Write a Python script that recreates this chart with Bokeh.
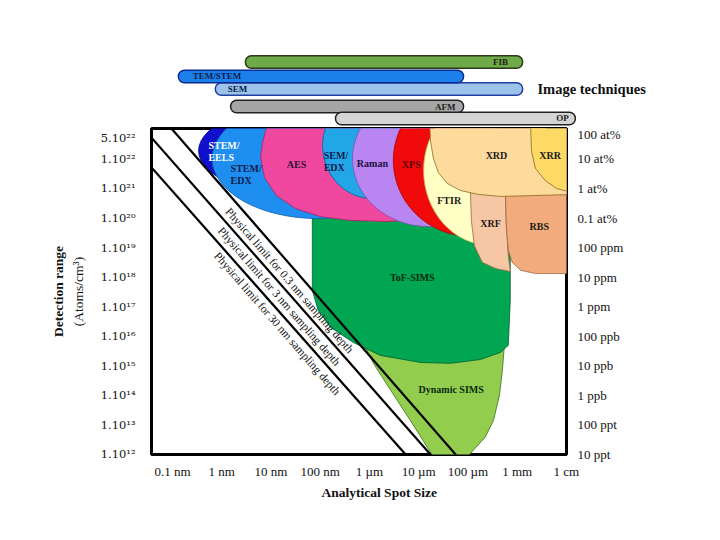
from bokeh.plotting import figure
from bokeh.layouts import column
from bokeh.models import FixedTicker, LinearAxis, Range1d, Title
from bokeh.core.properties import value
from bokeh.embed import file_html
from bokeh.resources import INLINE

SERIF = "Liberation Serif"
SERIF2 = "DejaVu Serif"

# ---------------- data ----------------
# x = log10(analytical spot size / m), y = log10(detection range / atoms cm^-3)
x_ticks = [-10, -9, -8, -7, -6, -5, -4, -3, -2]
x_tick_labels = ["0.1 nm", "1 nm", "10 nm", "100 nm", "1 µm", "10 µm", "100 µm", "1 mm", "1 cm"]

y_ticks = [12, 13, 14, 15, 16, 17, 18, 19, 20, 21, 22, 22.7]
y_tick_labels = ["1.10¹²", "1.10¹³", "1.10¹⁴", "1.10¹⁵", "1.10¹⁶", "1.10¹⁷", "1.10¹⁸",
                 "1.10¹⁹", "1.10²⁰", "1.10²¹", "1.10²²", "5.10²²"]

conc_ticks = [12, 13, 14, 15, 16, 17, 18, 19, 20, 21, 22, 22.85]
conc_labels = ["10 ppt", "100 ppt", "1 ppb", "10 ppb", "100 ppb", "1 ppm", "10 ppm",
               "100 ppm", "0.1 at%", "1 at%", "10 at%", "100 at%"]

# image techniques (spot-size ranges, log10 m)
img_names = ["FIB", "SEM", "TEM/STEM", "AFM", "OP"]
img_left = [-8.52, -9.13, -9.88, -8.82, -6.69]
img_right = [-2.89, -2.89, -4.09, -4.09, -1.82]
img_row = [5.47, 3.18, 4.24, 1.69, 0.68]

# elliptical techniques: centre, full width (decades), full height (decades)
eels = dict(x=-6.89, y=22.28, w=5.16, h=3.38)
stem_edx = dict(x=-7.04, y=22.01, w=4.31, h=4.06)
sem_edx = dict(x=-5.94, y=22.45, w=2.03, h=3.59)
raman = dict(x=-4.80, y=22.01, w=3.09, h=4.60)
xps = dict(x=-3.95, y=21.95, w=3.13, h=5.14)
ftir = dict(x=-3.54, y=21.61, w=2.72, h=5.07)

# outlined techniques (boundary points)
aes_x = [-8.05, -8.17, -8.21, -8.13, -7.89, -7.50, -7.00, -6.39, -5.68, -5.17, -4.76, -4.56, -4.56]
aes_y = [23.30, 22.56, 22.05, 21.37, 20.76, 20.32, 20.05, 19.92, 19.88, 19.92, 20.09, 20.59, 23.30]

xrd_x = [-4.78, -4.76, -4.70, -4.60, -4.42, -4.15, -3.79, -3.34, -1.82, -1.82]
xrd_y = [23.30, 22.62, 22.01, 21.54, 21.17, 20.93, 20.80, 20.73, 20.80, 23.30]

xrr_x = [-2.73, -2.71, -2.63, -2.43, -2.20, -1.82, -1.82]
xrr_y = [23.30, 22.28, 21.68, 21.27, 21.00, 20.83, 23.30]

xrf_x = [-3.95, -3.93, -3.87, -3.71, -3.44, -3.14, -3.18, -3.22, -3.24]
xrf_y = [20.93, 19.92, 19.07, 18.50, 18.29, 18.19, 18.73, 19.75, 20.93]

rbs_x = [-3.24, -3.22, -3.18, -3.10, -2.93, -2.63, -1.82, -1.82]
rbs_y = [20.93, 19.75, 18.90, 18.50, 18.23, 18.12, 18.12, 20.93]

tof_x = [-7.16, -7.16, -7.04, -6.79, -6.33, -5.78, -4.96, -4.36, -3.75, -3.34, -3.18, -3.14, -3.14, -3.18]
tof_y = [20.42, 17.55, 16.87, 16.30, 15.79, 15.35, 15.11, 15.08, 15.21, 15.45, 15.69, 17.21, 18.73, 20.42]

dyn_x = [-6.22, -6.12, -5.92, -5.57, -5.17, -4.76, -4.72, -3.99, -3.95, -3.65, -3.48, -3.36, -3.30, -3.26, -3.24]
dyn_y = [16.20, 15.76, 15.08, 14.17, 13.15, 12.07, 11.93, 11.93, 12.03, 12.58, 13.15, 14.00, 14.84, 15.69, 16.20]

# physical limits (lines) for sampling depths
limit_names = ["0.3 nm", "3 nm", "30 nm"]
limit_x = [[-10.10, -4.20], [-10.50, -4.71], [-10.50, -5.22]]
limit_y = [[23.18, 11.90], [22.86, 11.90], [21.85, 11.91]]
limit_label_x = [-7.62, -7.83, -7.87]
limit_label_y = [17.89, 17.35, 16.43]

# technique labels
lab_text = ["AES", "Raman", "XPS", "XRD", "XRR", "FTIR", "XRF", "RBS", "ToF-SIMS", "Dynamic SIMS"]
lab_x = [-7.48, -5.94, -5.15, -3.42, -2.33, -4.38, -3.54, -2.55, -5.13, -4.34]
lab_y = [21.81, 21.84, 21.81, 22.12, 22.12, 20.59, 19.82, 19.71, 17.99, 14.20]
lab_color = ["#2a1030", "#1a1040", "#5a0000", "#1a1a1a", "#1a1a1a", "#1a1a1a",
             "#1a1a1a", "#1a1a1a", "#0a2a10", "#0a2a10"]
lab2_text = ["STEM/\nEELS", "STEM/\nEDX", "SEM/\nEDX"]
lab2_x = [-9.27, -8.82, -6.93]
lab2_y = [22.25, 21.47, 21.91]
lab2_color = ["white", "#0d1b4a", "#0d1b4a"]

# ---------------- top figure: image techniques ----------------
top = figure(width=712, height=126, x_range=Range1d(-10.426, -0.091), y_range=Range1d(0, 10),
             x_axis_type=None, y_axis_type=None, toolbar_location=None, output_backend="svg",
             min_border_left=151, min_border_right=52, min_border_top=8, min_border_bottom=0)
top.outline_line_color = None
top.grid.visible = False

img_fill = {"FIB": "#6FAA48", "SEM": "#9DC3EA", "TEM/STEM": "#1C80EA", "AFM": "#A6A6A6", "OP": "#D4D4D4"}
img_line = {"FIB": "#2a3a1a", "SEM": "#2040A0", "TEM/STEM": "#0A2A90", "AFM": "#222222", "OP": "#222222"}
for n, l, r, yy in zip(img_names, img_left, img_right, img_row):
    top.hbar(y=[yy], left=[l], right=[r], height=1.06, fill_color=img_fill[n],
             line_color=img_line[n], line_width=1.5, border_radius=6)

bar_font = dict(text_font=value(SERIF), text_font_style="bold", text_font_size="9px",
                text_baseline="middle")
top.text(x=[-9.59, -8.88], y=[img_row[2], img_row[1]], text=["TEM/STEM", "SEM"],
         text_align="left", text_color="#0a1a4a", **bar_font)
top.text(x=[-3.34, -4.46, -2.08], y=[img_row[0], img_row[3], img_row[4]], text=["FIB", "AFM", "OP"],
         text_align="center", text_color="#202020", **bar_font)
top.text(x=[-1.49], y=[3.22], text=["Image techniques"], text_align="center", text_baseline="middle",
         text_font=value(SERIF), text_font_style="bold", text_font_size="14.5px", text_color="#111111")

# ---------------- main figure ----------------
p = figure(width=712, height=384, x_range=Range1d(-10.426, -1.998), y_range=Range1d(11.995, 23.03),
           toolbar_location=None, output_backend="svg",
           min_border_left=151, min_border_right=146, min_border_top=2, min_border_bottom=56)
p.grid.visible = False
p.outline_line_color = "black"
p.outline_line_width = 3

for fig in (top, p):
    if hasattr(fig, "frame_align"):
        fig.frame_align = False

def ell(d, fill, line):
    p.ellipse(x=[d["x"]], y=[d["y"]], width=[d["w"]], height=[d["h"]],
              fill_color=fill, line_color=line, line_width=0.8)

def poly(xs, ys, fill, line):
    p.patch(xs, ys, fill_color=fill, line_color=line, line_width=0.8)

poly(dyn_x, dyn_y, "#92CD4E", "#3E6E1A")
poly(tof_x, tof_y, "#00A651", "#00602A")
ell(eels, "#1010CC", "#000090")
ell(stem_edx, "#1E8EF0", "#1060B0")
poly(aes_x, aes_y, "#F0489E", "#B02060")
ell(sem_edx, "#22A6E8", "#1A5A90")
ell(raman, "#B985F0", "#8050B0")
ell(xps, "#F00A0A", "#B00000")
ell(ftir, "#FFFFC6", "#C8B860")
poly(xrf_x, xrf_y, "#F7C6A4", "#9A6A40")
poly(rbs_x, rbs_y, "#F1AB7C", "#9A6A40")
poly(xrd_x, xrd_y, "#FCDB9C", "#8A6A20")
poly(xrr_x, xrr_y, "#FFD966", "#8A6A20")

p.multi_line(xs=limit_x, ys=limit_y, line_color="black", line_width=2.2)
p.text(x=limit_label_x, y=limit_label_y,
       text=["Physical limit for %s sampling depth" % n for n in limit_names],
       angle=-0.854, text_align="center", text_baseline="middle",
       text_font=value(SERIF), text_font_size="11.5px", text_color="#111111")

p.text(x=lab_x, y=lab_y, text=lab_text, text_color=lab_color, text_align="center",
       text_baseline="middle", text_font=value(SERIF), text_font_style="bold", text_font_size="10px")
p.text(x=lab2_x, y=lab2_y, text=lab2_text, text_color=lab2_color, text_align="left",
       text_baseline="middle", text_font=value(SERIF), text_font_style="bold", text_font_size="10px",
       text_line_height=1.05)

def style_axis(ax):
    ax.axis_line_color = None
    ax.major_tick_line_color = None
    ax.minor_tick_line_color = None
    ax.major_tick_out = 0
    ax.major_tick_in = 0
    ax.minor_tick_out = 0
    ax.minor_tick_in = 0
    ax.major_label_text_font = SERIF
    ax.major_label_text_font_size = "13px"
    ax.major_label_text_color = "#111111"
    ax.axis_label_text_font = SERIF
    ax.axis_label_text_font_style = "normal"
    ax.axis_label_text_font_size = "13.5px"
    ax.axis_label_text_color = "#111111"

xa = p.xaxis[0]
xa.ticker = FixedTicker(ticks=x_ticks)
xa.major_label_overrides = {t: s for t, s in zip(x_ticks, x_tick_labels)}
style_axis(xa)
xa.major_label_standoff = 9

p.add_layout(Title(text="Analytical Spot Size", align="left", offset=170, standoff=2,
                   text_font=SERIF, text_font_style="bold", text_font_size="13.5px",
                   text_color="#111111"), "below")

ya = p.yaxis[0]
ya.ticker = FixedTicker(ticks=y_ticks)
ya.major_label_overrides = {t: s for t, s in zip(y_ticks, y_tick_labels)}
style_axis(ya)
ya.major_label_text_font = SERIF2
ya.major_label_text_font_size = "11.5px"
ya.major_label_standoff = 16
ya.axis_label = "(Atoms/cm³)"
ya.axis_label_standoff = 12

ya2 = LinearAxis(ticker=FixedTicker(ticks=[]), axis_label="Detection range")
style_axis(ya2)
ya2.major_label_standoff = 0
ya2.axis_label_standoff = 2
ya2.axis_label_text_font_style = "bold"
p.add_layout(ya2, "left")

yr = LinearAxis(ticker=FixedTicker(ticks=conc_ticks))
yr.major_label_overrides = {t: s for t, s in zip(conc_ticks, conc_labels)}
style_axis(yr)
yr.major_label_standoff = 11
p.add_layout(yr, "right")

layout = column(top, p)
open("out.html", "w").write(file_html(layout, INLINE))
